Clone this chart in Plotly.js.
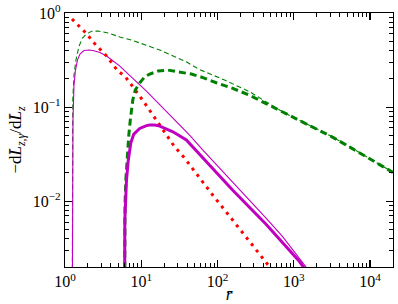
<!DOCTYPE html>
<html><head><meta charset="utf-8">
<script src="https://cdn.plot.ly/plotly-3.0.1.min.js"></script>
<style>html,body{margin:0;padding:0;background:#fff}#chart{width:398px;height:304px}</style>
</head><body><div id="chart"></div>
<script>
// ---- data ----
const rRed = [1.235,1.571,1.922,2.344,2.868,3.51,4.116,4.93,6.085,7.51,9.56,11.8,14.26,17.45,21.54,27.4,37.0,61.2,86.8,130,194,289,411,454,493];
const vRed = [0.863,0.718,0.602,0.491,0.419,0.349,0.294,0.2415,0.2138,0.1714,0.131,0.1025,0.0822,0.0659,0.0516,0.0378,0.0287,0.0167,0.01158,0.00769,0.00512,0.0034,0.00236,0.00214,0.00196];

const rThinGreen = [1.237,1.249,1.265,1.311,1.392,1.524,1.694,1.922,2.234,2.725,3.68,5.24,7.74,17.5,38.9,58.2,123.6,262,433,714,1180,1950,3214,5870,10720,20000];
const vThinGreen = [0.0001,0.0349,0.1187,0.219,0.316,0.442,0.542,0.602,0.639,0.643,0.613,0.556,0.51,0.404,0.303,0.2506,0.194,0.146,0.114,0.089,0.0727,0.0593,0.0483,0.0364,0.0273,0.0203];

const rThickGreen = [6.0,6.05,6.12,6.27,6.56,6.865,7.18,7.74,8.35,9.56,11.1,12.9,16.6,22.4,30.3,45.3,64.3,96.2,158.5,262,433,714,1180,1950,3214,5870,10720,20000];
const vThickGreen = [0.0001,0.0049,0.00906,0.0167,0.0309,0.0504,0.0727,0.119,0.152,0.1814,0.21,0.2244,0.2415,0.2474,0.2374,0.2244,0.206,0.1814,0.158,0.134,0.109,0.0885,0.0722,0.059,0.048,0.0362,0.0272,0.0202];

const rThinMag = [1.237,1.249,1.272,1.311,1.372,1.457,1.571,1.772,2.12,2.466,2.868,3.51,4.28,5.24,7.81,11.7,17.45,27.4,43.0,64.3,101,158.5,262,433,714,1180,1600];
const vThinMag = [0.0001,0.0167,0.0727,0.1714,0.2475,0.316,0.366,0.399,0.404,0.394,0.38,0.349,0.312,0.273,0.201,0.148,0.106,0.0736,0.0505,0.0349,0.0236,0.0158,0.0102,0.0066,0.0042,0.0025,0.0018];

const rThickMag = [6.0,6.09,6.4,6.76,7.29,7.98,9.55,11.7,12.9,15.0,17.5,26.0,39.0,47.6,58.2,100,158.5,433,1180,1372];
const vThickMag = [0.0001,0.00628,0.0167,0.0273,0.0414,0.0516,0.0593,0.0636,0.0644,0.0644,0.0628,0.0546,0.0448,0.0378,0.0315,0.0196,0.0131,0.0057,0.0023,0.00194];

const xMajor = [1,10,100,1000,10000];
const xMajorText = ['10<sup>0</sup>','10<sup>1</sup>','10<sup>2</sup>','10<sup>3</sup>','10<sup>4</sup>'];
const yMajor = [0.01,0.1,1];
const yMajorText = ['10<sup>\u22122</sup>','10<sup>\u22121</sup>','10<sup>0</sup>'];

// minor tick positions (2..9 in each decade)
const xMinor = [], yMinor = [];
[1,10,100,1000,10000].forEach(d=>{for(let k=2;k<=9;k++){ if(d*k<=20000) xMinor.push(d*k);} });
[0.001,0.01,0.1].forEach(d=>{for(let k=2;k<=9;k++){ if(d*k>=0.002) yMinor.push(d*k);} });

const MAG = '#c000c0', GRN = '#008000', RED = '#ff0000';
const traces = [
  {x:rThinGreen, y:vThinGreen, mode:'lines', line:{color:GRN, width:1.1, dash:'5px,3px'}},
  {x:rThinMag, y:vThinMag, mode:'lines', line:{color:MAG, width:1.1}},
  {x:rRed, y:vRed, mode:'lines', line:{color:RED, width:3, dash:'3px,5px'}},
  {x:rThickGreen, y:vThickGreen, mode:'lines', line:{color:GRN, width:3, dash:'7px,4px'}},
  {x:rThickMag, y:vThickMag, mode:'lines', line:{color:MAG, width:3}}
];

const FONT = 'Liberation Serif, DejaVu Serif, serif';
const axisCommon = {
  type:'log', showgrid:false, zeroline:false, showline:true, linecolor:'#000', linewidth:1.2,
  mirror:'ticks', ticks:'inside', ticklen:7, tickwidth:1.2, tickcolor:'#000',
  tickmode:'array', tickfont:{family:FONT, size:16, color:'#000'}
};
const layout = {
  width:398, height:304, margin:{l:65, r:5, t:13, b:37},
  paper_bgcolor:'#fff', plot_bgcolor:'#fff', showlegend:false,
  xaxis: Object.assign({}, axisCommon, {
    range:[0, Math.log10(20000)], tickvals:xMajor, ticktext:xMajorText,
    minor:{tickmode:'array', tickvals:xMinor, ticks:'inside', ticklen:4, tickwidth:1, tickcolor:'#000'},
    title:{text:'<i>r\u0304</i>', font:{family:FONT, size:17, color:'#000'}, standoff:2}
  }),
  yaxis: Object.assign({}, axisCommon, {
    range:[Math.log10(0.002), 0], tickvals:yMajor, ticktext:yMajorText,
    minor:{tickmode:'array', tickvals:yMinor, ticks:'inside', ticklen:4, tickwidth:1, tickcolor:'#000'},
    title:{text:'\u2212d<i>L\u0304</i><sub><i>z,\u03b3</i></sub>/d<i>L\u0304</i><sub><i>z</i></sub>', font:{family:FONT, size:17, color:'#000'}, standoff:6}
  })
};
Plotly.newPlot('chart', traces, layout, {displayModeBar:false, staticPlot:true});
</script></body></html>
